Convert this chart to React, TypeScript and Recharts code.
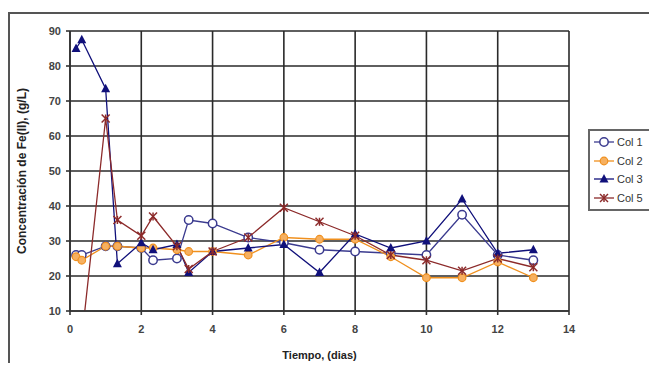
import React from 'react';
import { LineChart, Line, XAxis, YAxis, CartesianGrid, Label } from 'recharts';

const times = [0.17, 0.33, 1, 1.33, 2, 2.33, 3, 3.33, 4, 5, 6, 7, 8, 9, 10, 11, 12, 13];
const col1 = [26, 26, 28.5, 28.5, 28, 24.5, 25, 36, 35, 31, 29.5, 27.5, 27, 26.5, 26, 37.5, 26, 24.5];
const col2 = [25.5, 24.5, 28.5, 28.5, 28, 28, 27.5, 27, 27, 26, 31, 30.5, 30.5, 25.5, 19.5, 19.5, 24, 19.5];
const col3 = [85, 87.5, 73.5, 23.5, 29.5, 27.5, 29, 21, 27, 28, 29, 21, 32, 28, 30, 42, 26.5, 27.5];
const col5 = [null, 2, 65, 36, 31.5, 37, 28.5, 22, 27, 31, 39.5, 35.5, 31.5, 26, 24.5, 21.5, 25, 22.5];

const xTicks = [0, 2, 4, 6, 8, 10, 12, 14];
const yTicks = [10, 20, 30, 40, 50, 60, 70, 80, 90];

const data = times.map((t, i) => ({ t, col1: col1[i], col2: col2[i], col3: col3[i], col5: col5[i] }));

const series = [
  { key: 'col1', name: 'Col 1', color: '#3b3b8f', marker: 'circle' },
  { key: 'col2', name: 'Col 2', color: '#f0901e', marker: 'dot' },
  { key: 'col3', name: 'Col 3', color: '#10107a', marker: 'triangle' },
  { key: 'col5', name: 'Col 5', color: '#8c2a2a', marker: 'cross' },
];

const font = 'Liberation Sans, Arial, sans-serif';

const Marker = ({ type, cx, cy, color }: any) => {
  if (type === 'circle') return <circle cx={cx} cy={cy} r={4.2} fill="#fff" stroke={color} strokeWidth={1.5} />;
  if (type === 'dot') return <circle cx={cx} cy={cy} r={3.8} fill="#f6b060" stroke={color} strokeWidth={1.2} />;
  if (type === 'triangle')
    return <polygon points={`${cx},${cy - 5} ${cx + 4.5},${cy + 3.5} ${cx - 4.5},${cy + 3.5}`} fill={color} />;
  return (
    <g stroke={color} strokeWidth={1.5}>
      <line x1={cx - 4} y1={cy - 4} x2={cx + 4} y2={cy + 4} />
      <line x1={cx - 4} y1={cy + 4} x2={cx + 4} y2={cy - 4} />
      <line x1={cx} y1={cy - 4} x2={cx} y2={cy + 4} />
    </g>
  );
};

const makeDot = (type: string, color: string) => (props: any) => {
  const { cx, cy, index, value } = props;
  if (value == null || cx == null || cy == null) return <g key={`d-${index}`} />;
  return (
    <g key={`d-${index}`}>
      <Marker type={type} cx={cx} cy={cy} color={color} />
    </g>
  );
};

const LegendBox = () => (
  <div
    style={{
      position: 'absolute',
      left: 580,
      top: 121,
      border: '2px solid #666',
      background: '#fff',
      padding: '2px 3px',
      width: 58,
    }}
  >
    {series.map((s) => (
      <div key={s.key} style={{ display: 'flex', alignItems: 'center', height: 18.5 }}>
        <svg width={22} height={12}>
          <line x1={1} y1={6} x2={21} y2={6} stroke={s.color} strokeWidth={1.3} />
          <Marker type={s.marker} cx={11} cy={6} color={s.color} />
        </svg>
        <span style={{ fontFamily: font, fontSize: 11, color: '#333', marginLeft: 2 }}>{s.name}</span>
      </div>
    ))}
  </div>
);

const tickStyle = { fontFamily: font, fontSize: 11, fontWeight: 'bold', fill: '#444' };

export default function App() {
  return (
    <div style={{ position: 'relative', width: 647, height: 355 }}>
      <div
        style={{
          position: 'absolute',
          left: 0,
          top: 4,
          width: 643,
          height: 360,
          border: '2px solid #555',
          boxSizing: 'border-box',
        }}
      />
      <div style={{ position: 'absolute', left: 0, top: 0 }}>
        <LineChart width={641} height={355} data={data} margin={{ top: 23, right: 80, left: 0, bottom: 22 }}>
          <CartesianGrid stroke="#2a2a2a" strokeWidth={1.6} />
          <XAxis
            dataKey="t"
            type="number"
            domain={[0, 14]}
            ticks={xTicks}
            tick={tickStyle}
            tickSize={4}
            tickMargin={10}
            height={30}
            stroke="#333"
            strokeWidth={1.6}
          >
            <Label
              value="Tiempo, (dias)"
              position="insideBottom"
              offset={-18}
              style={{ fontFamily: font, fontSize: 11, fontWeight: 'bold', fill: '#222' }}
            />
          </XAxis>
          <YAxis
            type="number"
            domain={[10, 90]}
            allowDataOverflow
            ticks={yTicks}
            tick={tickStyle}
            tickSize={4}
            tickMargin={5}
            width={62}
            stroke="#333"
            strokeWidth={1.6}
          >
            <Label
              value="Concentración de Fe(II), (g/L)"
              angle={-90}
              position="center"
              dx={-17}
              style={{ fontFamily: font, fontSize: 12, fontWeight: 'bold', fill: '#222', textAnchor: 'middle' }}
            />
          </YAxis>
          {series.map((s) => (
            <Line
              key={s.key}
              dataKey={s.key}
              name={s.name}
              stroke={s.color}
              strokeWidth={1.3}
              dot={makeDot(s.marker, s.color)}
              activeDot={false}
              isAnimationActive={false}
            />
          ))}
        </LineChart>
      </div>
      <LegendBox />
    </div>
  );
}
